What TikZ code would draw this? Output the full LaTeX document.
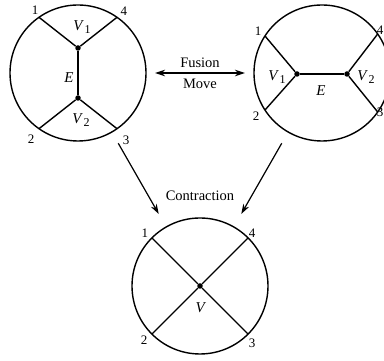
\documentclass[tikz,border=0pt]{standalone}
\usepackage{fontspec}
\setmainfont{Liberation Serif}
\usetikzlibrary{arrows.meta}
\tikzset{
  % graph discs
  disc/.style={circle, draw, line width=1.4pt, minimum size=136pt,
    inner sep=0pt, outer sep=0pt},
  % vertices
  vdot/.style={circle, fill, inner sep=0pt, minimum size=5.5pt},
  gedge/.style={line width=1.4pt},
  % labels
  ext/.style={font=\fontsize{13}{13}\selectfont, inner sep=0pt},
  vlab/.style={inner sep=0pt},
  % arrows
  myarrow/.style={-{Stealth[length=10pt,width=6.5pt]}, line width=1.2pt},
  biarrow/.style={{Stealth[length=10pt,width=6.5pt]}-{Stealth[length=10pt,width=6.5pt]}, line width=1.2pt},
  arrlabel/.style={font=\fontsize{14.5}{16}\selectfont},
}
\newcommand{\Vsub}[1]{\textit{V}\kern0.5pt\raisebox{-3.5pt}{\fontsize{12}{12}\selectfont #1}}

\begin{document}
\begin{tikzpicture}[x=1pt, y=1pt, font=\fontsize{15}{17}\selectfont]
  \useasboundingbox (0,0) rectangle (384,361);

  % Left disc: vertical edge
  \node[disc] (L) at (78,288) {};
  \node[vdot] (lv1) at (78,313) {};
  \node[vdot] (lv2) at (78,263) {};
  \draw[gedge] (L.125) -- (lv1) -- (L.55);
  \draw[gedge] (L.235) -- (lv2) -- (L.305);
  \draw[gedge] (lv1) -- (lv2);
  \node[ext] (l1) at (35,351) {1};
  \node[ext] (l4) at (124,350) {4};
  \node[ext] (l2) at (31,222) {2};
  \node[ext] (l3) at (126,221) {3};
  \node[vlab] (lV1) at (82,334) {\Vsub{1}};
  \node[vlab] (lE) at (69,283) {\textit{E}};
  \node[vlab] (lV2) at (81,241) {\Vsub{2}};

  % Right disc: horizontal edge
  \node[disc] (R) at (322,288) {};
  \node[vdot] (rv1) at (297,287) {};
  \node[vdot] (rv2) at (347,287) {};
  \draw[gedge] (R.147) -- (rv1) -- (R.213);
  \draw[gedge] (R.35) -- (rv2) -- (R.325);
  \draw[gedge] (rv1) -- (rv2);
  \node[ext] (r1) at (258,330) {1};
  \node[ext] (r4) at (380,331) {4};
  \node[ext] (r2) at (256,245) {2};
  \node[ext] (r3) at (380,249) {3};
  \node[vlab] (rV1) at (277,284) {\Vsub{1}};
  \node[vlab] (rE) at (321,270) {\textit{E}};
  \node[vlab] (rV2) at (366,284) {\Vsub{2}};

  % Bottom disc: contracted vertex
  \node[disc] (B) at (200,75) {};
  \node[vdot] (bv) at (200,75) {};
  \draw[gedge] (B.135) -- (bv) -- (B.315);
  \draw[gedge] (B.225) -- (bv) -- (B.45);
  \node[ext] (b1) at (145,128) {1};
  \node[ext] (b4) at (252,128) {4};
  \node[ext] (b2) at (144,21) {2};
  \node[ext] (b3) at (252,18) {3};
  \node[vlab] (bV) at (201,53) {\textit{V}};

  % Arrows
  \draw[biarrow, shorten <=9pt, shorten >=9pt] (L) -- (R)
    node[arrlabel, midway, above=1pt] {Fusion}
    node[arrlabel, midway, below=2pt] {Move};
  \draw[myarrow, shorten <=13pt, shorten >=15pt] (L) -- (B);
  \draw[myarrow, shorten <=13pt, shorten >=15pt] (R) -- (B);
  \node[arrlabel] (contr) at (200,165) {Contraction};

\end{tikzpicture}
\end{document}
